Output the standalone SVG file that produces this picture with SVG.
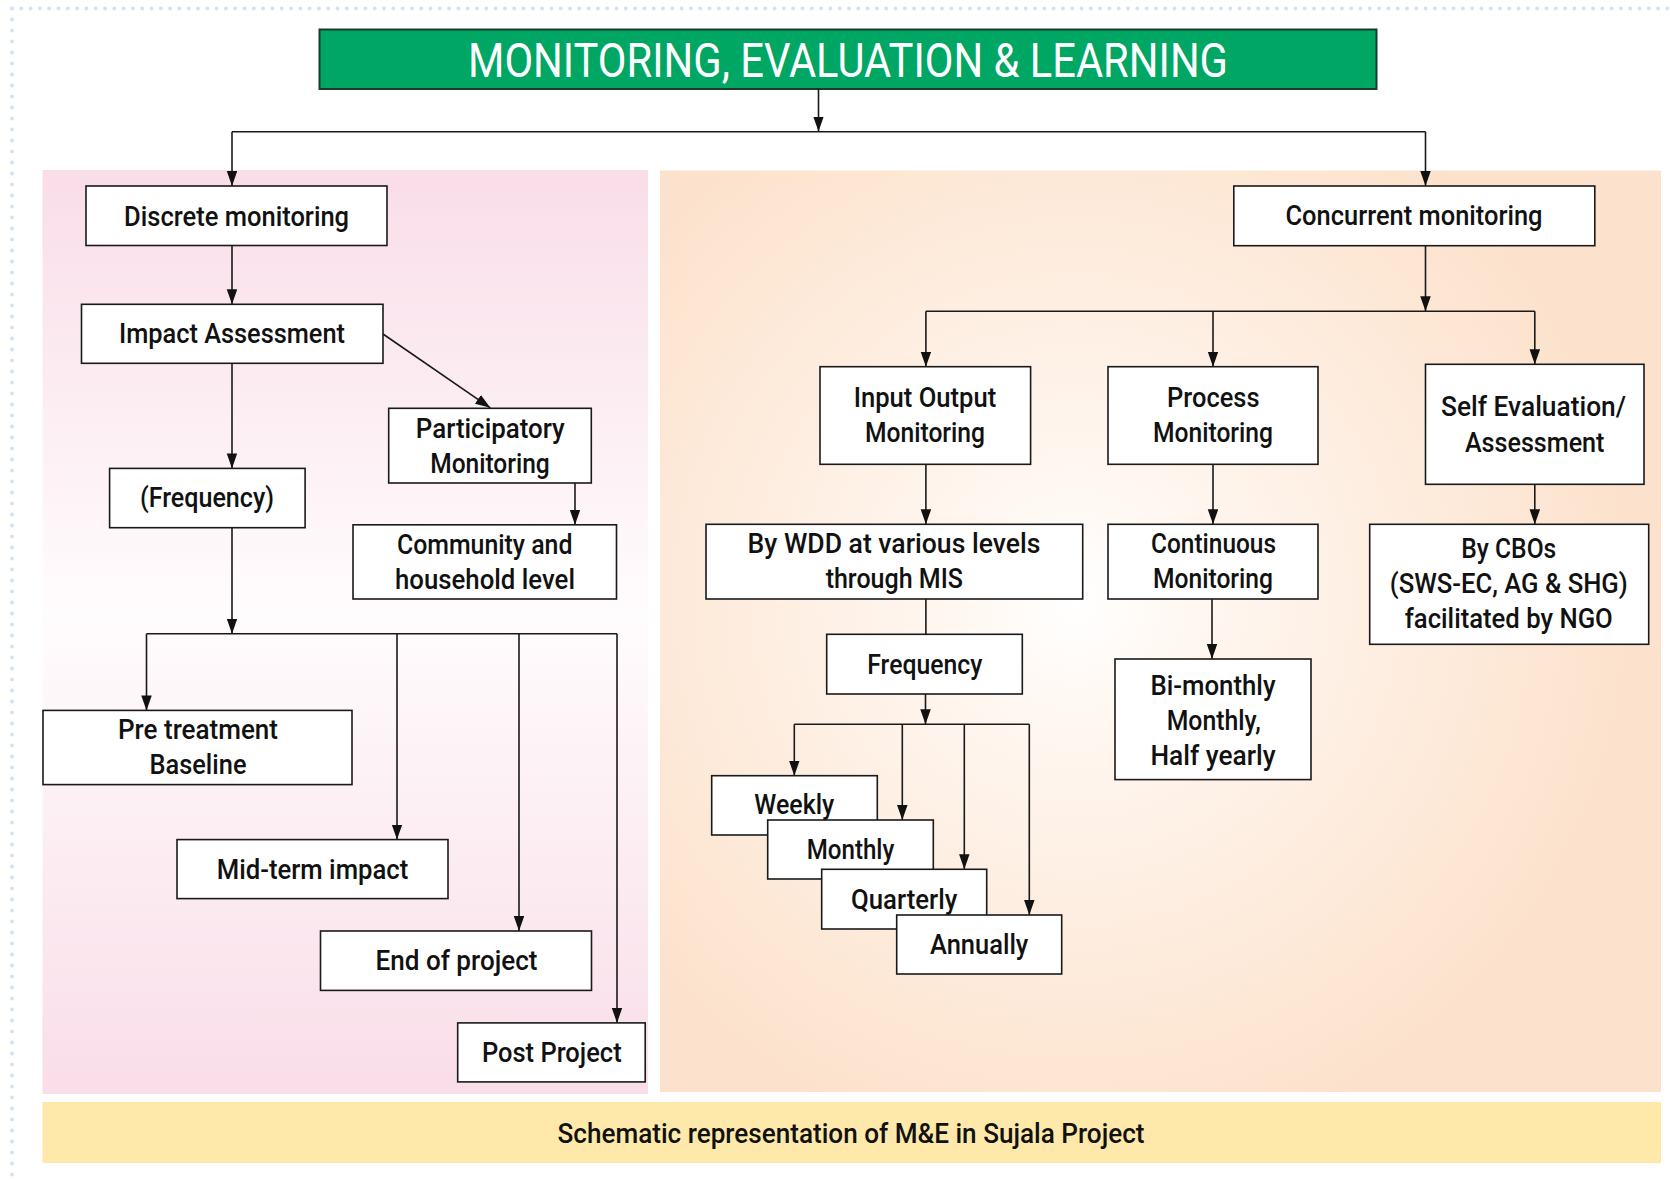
<svg xmlns="http://www.w3.org/2000/svg" width="1670" height="1180" viewBox="0 0 1670 1180">
<style>
.node rect{fill:#ffffff;stroke:#1a1a1a;stroke-width:1.6}
text{font-family:Roboto,"Liberation Sans",sans-serif;font-weight:500;font-size:27px;fill:#111111;text-anchor:middle}
.title{font-size:48px;fill:#ffffff;font-weight:400}
.conn path{fill:none;stroke:#1a1a1a;stroke-width:1.6}
.dots{fill:none;stroke:#d2e4f3;stroke-width:4;stroke-linecap:round}
</style>
<defs>
<marker id="arr" markerUnits="userSpaceOnUse" markerWidth="16" markerHeight="12" refX="15" refY="5.25" orient="auto">
<path d="M0,0 L15,5.25 L0,10.5 Z" fill="#111111"/>
</marker>
<linearGradient id="pinkg" x1="0" y1="0" x2="0" y2="1">
<stop offset="0" stop-color="#f9dde8"/>
<stop offset="0.48" stop-color="#fffcfd"/>
<stop offset="1" stop-color="#f9dde8"/>
</linearGradient>
<radialGradient id="peachg" gradientUnits="userSpaceOnUse" cx="1075" cy="600" r="560">
<stop offset="0" stop-color="#ffffff"/>
<stop offset="0.25" stop-color="#fff6ef"/>
<stop offset="1" stop-color="#fce2cc"/>
</radialGradient>
</defs>
<rect width="1670" height="1180" fill="#ffffff"/>
<g id="border">
<path class="dots" d="M12,8.5 H1670" stroke-dasharray="0 9.3"/>
<path class="dots" d="M12,8.5 V1180" stroke-dasharray="0 11"/>
</g>
<g id="panels">
<rect x="42.5" y="170" width="605.5" height="924" fill="url(#pinkg)"/>
<rect x="660" y="170.5" width="1001" height="921.5" fill="url(#peachg)"/>
<rect x="42.5" y="1102" width="1618.5" height="61" fill="#fee9aa"/>
<text x="851" y="1143" textLength="587" lengthAdjust="spacingAndGlyphs">Schematic representation of M&amp;E in Sujala Project</text>
</g>
<g id="title">
<rect x="319.5" y="29.5" width="1057" height="59.5" fill="#00a664" stroke="#1d3a2b" stroke-width="2"/>
<text class="title" x="848" y="76.5" textLength="760" lengthAdjust="spacingAndGlyphs">MONITORING, EVALUATION &amp; LEARNING</text>
</g>
<g class="conn" id="connectors">
<path d="M818.5,89 V131.5" marker-end="url(#arr)"/>
<path d="M232,131.7 H1425.5"/>
<path d="M232,131.7 V186" marker-end="url(#arr)"/>
<path d="M1425.5,131.7 V186" marker-end="url(#arr)"/>
<path d="M232,245.5 V304.3" marker-end="url(#arr)"/>
<path d="M383,334 L490.3,407.8" marker-end="url(#arr)"/>
<path d="M575,483 V524.8" marker-end="url(#arr)"/>
<path d="M232,363.3 V468.4" marker-end="url(#arr)"/>
<path d="M232,527.7 V633.7" marker-end="url(#arr)"/>
<path d="M146.5,633.7 H617"/>
<path d="M146.5,633.7 V710.4" marker-end="url(#arr)"/>
<path d="M397,633.7 V839.6" marker-end="url(#arr)"/>
<path d="M519,633.7 V931" marker-end="url(#arr)"/>
<path d="M617,633.7 V1022.9" marker-end="url(#arr)"/>
<path d="M1425.5,245.7 V311.3" marker-end="url(#arr)"/>
<path d="M925.9,311.3 H1534.8"/>
<path d="M925.9,311.3 V366.7" marker-end="url(#arr)"/>
<path d="M1213,311.3 V366.7" marker-end="url(#arr)"/>
<path d="M1534.8,311.3 V364.3" marker-end="url(#arr)"/>
<path d="M925.9,464.3 V524.3" marker-end="url(#arr)"/>
<path d="M1213,464.3 V524.3" marker-end="url(#arr)"/>
<path d="M1534.8,484.3 V524.3" marker-end="url(#arr)"/>
<path d="M925.9,599 V634.3"/>
<path d="M1212,599 V659" marker-end="url(#arr)"/>
<path d="M925.5,694 V724.3" marker-end="url(#arr)"/>
<path d="M794.3,724.3 H1029.3"/>
<path d="M794.3,724.3 V775.7" marker-end="url(#arr)"/>
<path d="M902.3,724.3 V820" marker-end="url(#arr)"/>
<path d="M964.3,724.3 V869.3" marker-end="url(#arr)"/>
<path d="M1029.3,724.3 V915" marker-end="url(#arr)"/>
</g>
<g class="node" id="discrete"><rect x="86" y="186" width="301" height="59.5"/><text x="236.6" y="225.7" textLength="225" lengthAdjust="spacingAndGlyphs">Discrete monitoring</text></g>
<g class="node" id="impact"><rect x="81.5" y="304.3" width="301.5" height="59"/><text x="232" y="343.3" textLength="226" lengthAdjust="spacingAndGlyphs">Impact Assessment</text></g>
<g class="node" id="participatory"><rect x="388.7" y="408.3" width="202.6" height="74.7"/><text x="490.3" y="438.3" textLength="149" lengthAdjust="spacingAndGlyphs">Participatory</text><text x="490" y="473.3" textLength="119.5" lengthAdjust="spacingAndGlyphs">Monitoring</text></g>
<g class="node" id="community"><rect x="353" y="524.8" width="263.5" height="74.2"/><text x="484.7" y="554.3" textLength="175.5" lengthAdjust="spacingAndGlyphs">Community and</text><text x="485" y="589" textLength="180" lengthAdjust="spacingAndGlyphs">household level</text></g>
<g class="node" id="frequency-left"><rect x="109.6" y="468.4" width="195.5" height="59.3"/><text x="207" y="506.7" textLength="134" lengthAdjust="spacingAndGlyphs">(Frequency)</text></g>
<g class="node" id="pretreatment"><rect x="43" y="710.4" width="309" height="74.2"/><text x="198" y="739" textLength="160" lengthAdjust="spacingAndGlyphs">Pre treatment</text><text x="198" y="774" textLength="97" lengthAdjust="spacingAndGlyphs">Baseline</text></g>
<g class="node" id="midterm"><rect x="177" y="839.6" width="271" height="59"/><text x="312.5" y="879" textLength="191.5" lengthAdjust="spacingAndGlyphs">Mid-term impact</text></g>
<g class="node" id="endproject"><rect x="320.5" y="931" width="271" height="59.4"/><text x="456.5" y="970" textLength="162" lengthAdjust="spacingAndGlyphs">End of project</text></g>
<g class="node" id="postproject"><rect x="457.7" y="1022.9" width="187.5" height="59"/><text x="551.8" y="1061.8" textLength="139.7" lengthAdjust="spacingAndGlyphs">Post Project</text></g>
<g class="node" id="concurrent"><rect x="1233.8" y="186" width="361" height="59.7"/><text x="1414" y="225" textLength="257" lengthAdjust="spacingAndGlyphs">Concurrent monitoring</text></g>
<g class="node" id="inputoutput"><rect x="820" y="366.7" width="210.6" height="97.6"/><text x="925" y="407.3" textLength="142.5" lengthAdjust="spacingAndGlyphs">Input Output</text><text x="925" y="441.7" textLength="120" lengthAdjust="spacingAndGlyphs">Monitoring</text></g>
<g class="node" id="process"><rect x="1108" y="366.7" width="210" height="97.6"/><text x="1213.3" y="407.3" textLength="92.4" lengthAdjust="spacingAndGlyphs">Process</text><text x="1213" y="441.7" textLength="120" lengthAdjust="spacingAndGlyphs">Monitoring</text></g>
<g class="node" id="selfeval"><rect x="1425.5" y="364.3" width="218.5" height="120"/><text x="1533.5" y="416" textLength="185" lengthAdjust="spacingAndGlyphs">Self Evaluation/</text><text x="1534.7" y="451.7" textLength="139.5" lengthAdjust="spacingAndGlyphs">Assessment</text></g>
<g class="node" id="bywdd"><rect x="706" y="524.3" width="376.7" height="74.7"/><text x="894" y="553.3" textLength="292.8" lengthAdjust="spacingAndGlyphs">By WDD at various levels</text><text x="894.3" y="588.3" textLength="137.3" lengthAdjust="spacingAndGlyphs">through MIS</text></g>
<g class="node" id="continuous"><rect x="1108" y="524.3" width="210" height="74.7"/><text x="1213.5" y="553.3" textLength="125" lengthAdjust="spacingAndGlyphs">Continuous</text><text x="1213" y="588.3" textLength="120" lengthAdjust="spacingAndGlyphs">Monitoring</text></g>
<g class="node" id="bycbos"><rect x="1369.7" y="524.3" width="279" height="120"/><text x="1508.8" y="558.3" textLength="95" lengthAdjust="spacingAndGlyphs">By CBOs</text><text x="1508.8" y="593.3" textLength="238" lengthAdjust="spacingAndGlyphs">(SWS-EC, AG &amp; SHG)</text><text x="1508.8" y="628.3" textLength="208" lengthAdjust="spacingAndGlyphs">facilitated by NGO</text></g>
<g class="node" id="frequency-right"><rect x="826.7" y="634.3" width="195.6" height="59.7"/><text x="924.8" y="674.3" textLength="115" lengthAdjust="spacingAndGlyphs">Frequency</text></g>
<g class="node" id="weekly"><rect x="711.7" y="775.7" width="165.6" height="59.3"/><text x="794.3" y="814.3" textLength="80" lengthAdjust="spacingAndGlyphs">Weekly</text></g>
<g class="node" id="monthly"><rect x="767.7" y="820" width="165.6" height="59"/><text x="850.5" y="859.3" textLength="87.6" lengthAdjust="spacingAndGlyphs">Monthly</text></g>
<g class="node" id="quarterly"><rect x="821.7" y="869.3" width="165" height="59.7"/><text x="904.2" y="908.7" textLength="106.3" lengthAdjust="spacingAndGlyphs">Quarterly</text></g>
<g class="node" id="annually"><rect x="896.7" y="915" width="165" height="59"/><text x="979.2" y="954" textLength="98.3" lengthAdjust="spacingAndGlyphs">Annually</text></g>
<g class="node" id="bimonthly"><rect x="1115" y="659" width="196" height="120.6"/><text x="1213" y="695" textLength="125" lengthAdjust="spacingAndGlyphs">Bi-monthly</text><text x="1213.7" y="729.6" textLength="94" lengthAdjust="spacingAndGlyphs">Monthly,</text><text x="1213" y="764.6" textLength="125" lengthAdjust="spacingAndGlyphs">Half yearly</text></g>
</svg>
